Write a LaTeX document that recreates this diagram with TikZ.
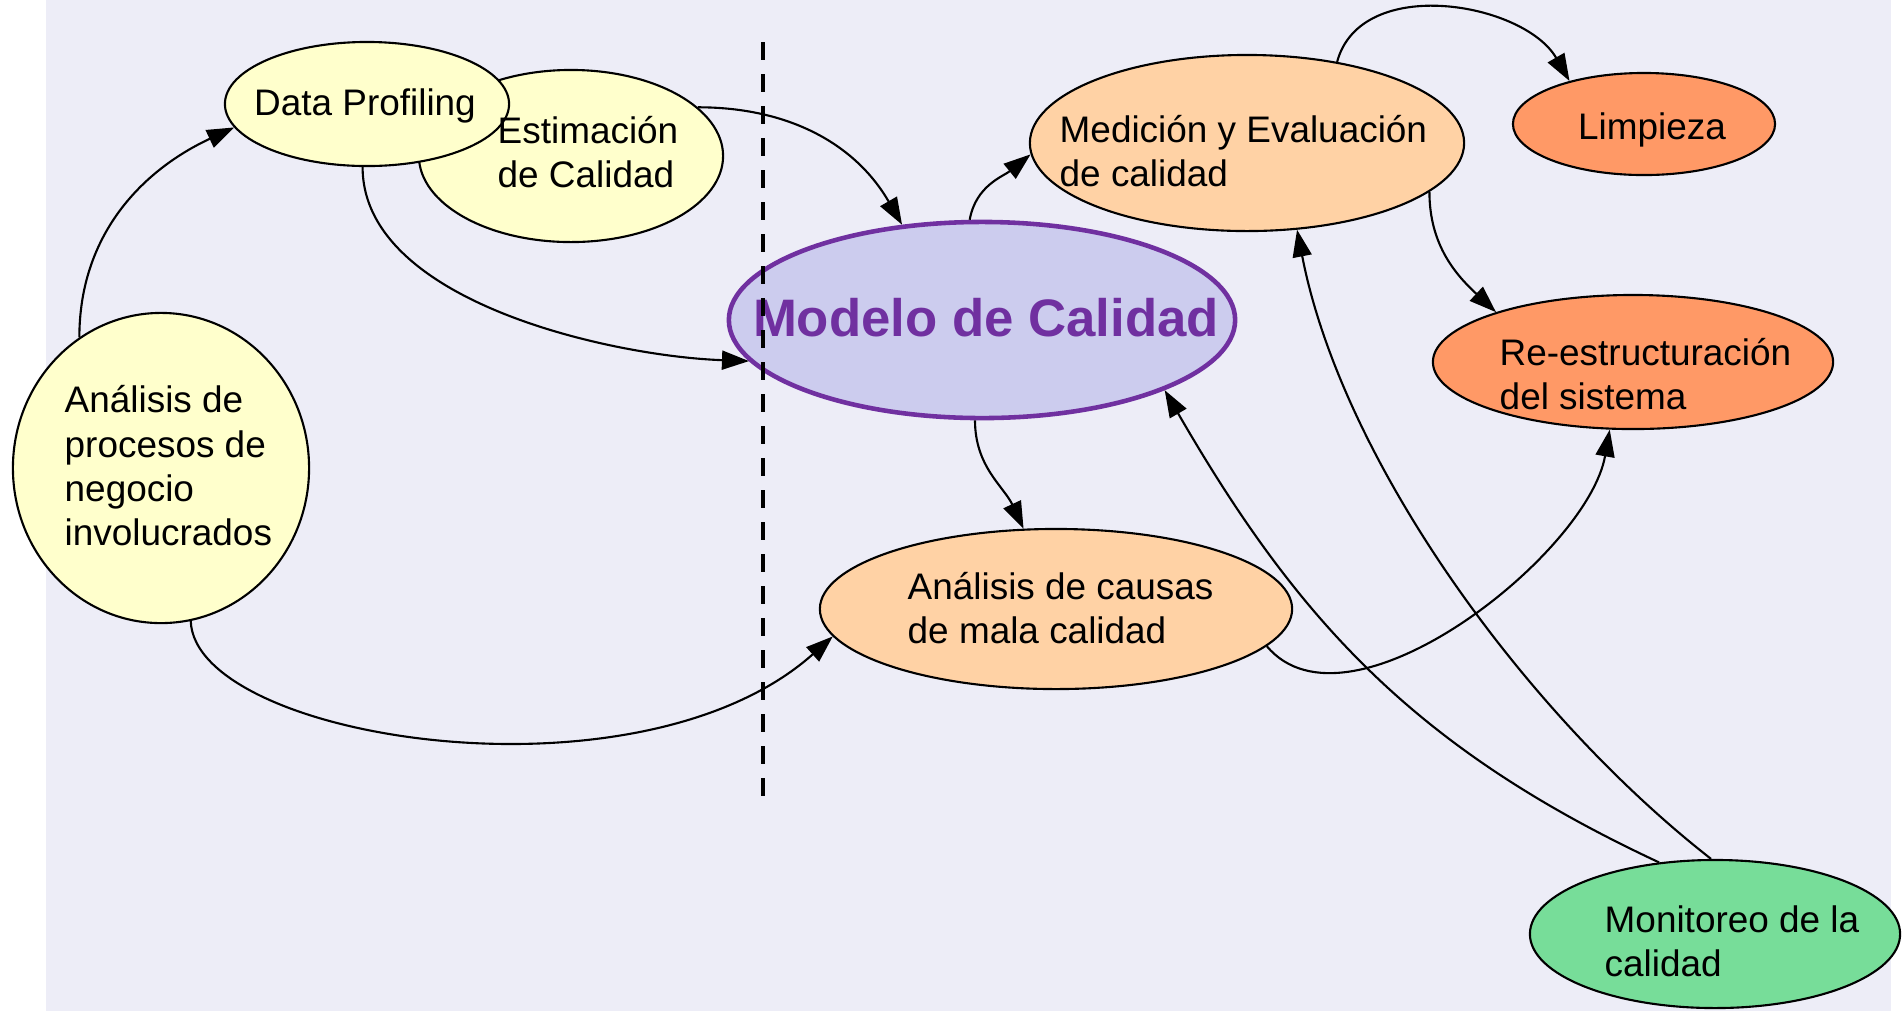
\documentclass[tikz,border=0pt]{standalone}
\usepackage{fontspec}
\setmainfont{Liberation Sans}
\usetikzlibrary{shapes.geometric,arrows.meta}
\definecolor{fondo}{RGB}{237,237,247}
\definecolor{amarillo}{RGB}{255,255,204}
\definecolor{durazno}{RGB}{255,210,165}
\definecolor{naranja}{RGB}{255,153,102}
\definecolor{verde}{RGB}{119,221,153}
\definecolor{lila}{RGB}{204,204,238}
\definecolor{morado}{RGB}{112,48,160}
\tikzset{
  burbuja/.style={ellipse,draw,line width=0.6pt,inner sep=0pt},
  texto/.style={font=\fontsize{10.5}{12.6}\selectfont,align=left,inner sep=0pt,anchor=west},
  flecha/.style={line width=0.6pt,-{Triangle[length=0.27cm,width=0.19cm]}}
}
\begin{document}
\begin{tikzpicture}[x=0.01cm,y=-0.01cm]
\useasboundingbox (0,0) rectangle (1903,1011);
\fill[fondo] (46,0) rectangle (1891,1011);
% burbujas
\node[burbuja,fill=amarillo,minimum width=2.96cm,minimum height=3.10cm] (proc) at (161,468) {};
\node[burbuja,fill=amarillo,minimum width=3.04cm,minimum height=1.72cm] (est) at (571,156) {};
\node[burbuja,fill=amarillo,minimum width=2.84cm,minimum height=1.24cm] (prof) at (367,104) {};
\node[burbuja,fill=lila,draw=morado,line width=1.3pt,minimum width=5.06cm,minimum height=1.96cm] (mod) at (982,320) {};
\node[burbuja,fill=durazno,minimum width=4.34cm,minimum height=1.76cm] (med) at (1247,143) {};
\node[burbuja,fill=naranja,minimum width=2.62cm,minimum height=1.02cm] (lim) at (1644,124) {};
\node[burbuja,fill=naranja,minimum width=4.00cm,minimum height=1.34cm] (reest) at (1633,362) {};
\node[burbuja,fill=durazno,minimum width=4.72cm,minimum height=1.60cm] (causa) at (1056,609) {};
\node[burbuja,fill=verde,minimum width=3.70cm,minimum height=1.48cm] (mon) at (1715,934) {};
% textos
\node[texto] (proc-t) at (64,466) {Análisis de\\procesos de\\negocio\\involucrados};
\node[texto,anchor=center] (prof-t) at (365,106) {Data Profiling};
\node[texto] (est-t) at (497,152) {Estimación\\de Calidad};
\node[font=\fontsize{15}{18}\selectfont\bfseries,text=morado,inner sep=0pt] (mod-t) at (986,318) {Modelo de Calidad};
\node[texto] (med-t) at (1059,151) {Medición y Evaluación\\de calidad};
\node[texto,anchor=center] (lim-t) at (1652,130) {Limpieza};
\node[texto] (reest-t) at (1499,374) {Re-estructuración\\del sistema};
\node[texto] (causa-t) at (907,608) {Análisis de causas\\de mala calidad};
\node[texto] (mon-t) at (1604,941) {Monitoreo de la\\calidad};
% linea divisoria
\draw[line width=1.3pt,dash pattern=on 0.18cm off 0.14cm] (763,42) -- (763,801);
% flechas
\draw[flecha] (proc.122) to[out=90,in=205] (prof.190);
\draw[flecha] (prof.266) to[out=270,in=178,looseness=0.8] (mod.190);
\draw[flecha] (est.21) to[out=0,in=120] (mod.130);
\draw[flecha] (proc.281) .. controls +(4,118) and +(-195,174) .. (causa.187);
\draw[flecha] (mod.97) to[out=80,in=219] (med.183);
\draw[flecha] (mod.266) to[out=270,in=115] (causa.112);
\draw[flecha] (med.42) to[out=75,in=120] (lim.150);
\draw[flecha] (med.345) to[out=270,in=137] (reest.160);
\draw[flecha] (causa.350) to[out=310,in=260,looseness=0.8] (reest.251);
\draw[flecha] (mon.128) to[out=155,in=300] (mod.339);
\draw[flecha] (mon.93) to[out=142,in=281,looseness=0.8] (med.300);
\end{tikzpicture}
\end{document}
